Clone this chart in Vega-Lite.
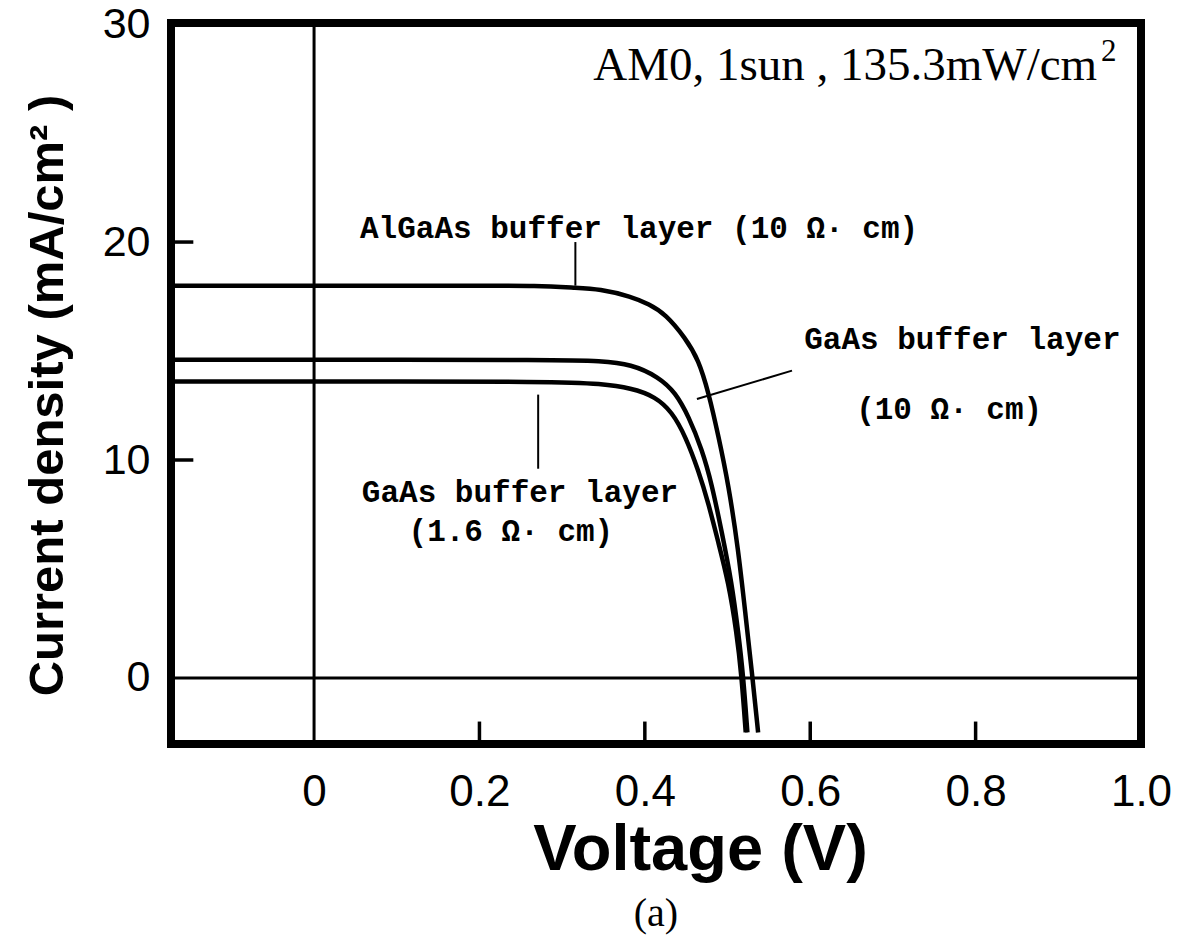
{
  "$schema": "https://vega.github.io/schema/vega-lite/v6.json",
  "autosize": "none",
  "padding": {"left": 171, "top": 23, "right": 44, "bottom": 203},
  "width": 970,
  "height": 721,
  "background": "white",
  "config": {
    "view": {"stroke": "black", "strokeWidth": 8},
    "axis": {"grid": false, "domain": false, "ticks": false, "tickSize": 0, "labelColor": "black", "titleColor": "black"}
  },
  "title": {"text": "(a)", "orient": "bottom", "font": "Liberation Serif", "fontSize": 40, "fontWeight": "normal", "color": "black", "offset": 12, "anchor": "middle"},
  "datasets": {
    "curves": [
      {"series": "AlGaAs 10", "V": -0.173, "J": 18.0},
      {"series": "AlGaAs 10", "V": 0.0, "J": 18.0},
      {"series": "AlGaAs 10", "V": 0.2, "J": 18.0},
      {"series": "AlGaAs 10", "V": 0.27, "J": 18.0},
      {"series": "AlGaAs 10", "V": 0.317, "J": 17.9},
      {"series": "AlGaAs 10", "V": 0.345, "J": 17.85},
      {"series": "AlGaAs 10", "V": 0.384, "J": 17.5},
      {"series": "AlGaAs 10", "V": 0.405, "J": 17.15},
      {"series": "AlGaAs 10", "V": 0.425, "J": 16.7},
      {"series": "AlGaAs 10", "V": 0.449, "J": 15.6},
      {"series": "AlGaAs 10", "V": 0.465, "J": 14.6},
      {"series": "AlGaAs 10", "V": 0.477, "J": 13.1},
      {"series": "AlGaAs 10", "V": 0.489, "J": 11.1},
      {"series": "AlGaAs 10", "V": 0.501, "J": 8.9},
      {"series": "AlGaAs 10", "V": 0.513, "J": 5.9},
      {"series": "AlGaAs 10", "V": 0.522, "J": 2.8},
      {"series": "AlGaAs 10", "V": 0.530, "J": 0.1},
      {"series": "AlGaAs 10", "V": 0.537, "J": -2.5},
      {"series": "GaAs 10", "V": -0.173, "J": 14.6},
      {"series": "GaAs 10", "V": 0.0, "J": 14.6},
      {"series": "GaAs 10", "V": 0.3, "J": 14.6},
      {"series": "GaAs 10", "V": 0.345, "J": 14.55},
      {"series": "GaAs 10", "V": 0.384, "J": 14.4},
      {"series": "GaAs 10", "V": 0.417, "J": 13.8},
      {"series": "GaAs 10", "V": 0.437, "J": 13.1},
      {"series": "GaAs 10", "V": 0.453, "J": 12.0},
      {"series": "GaAs 10", "V": 0.469, "J": 10.5},
      {"series": "GaAs 10", "V": 0.481, "J": 8.9},
      {"series": "GaAs 10", "V": 0.493, "J": 6.7},
      {"series": "GaAs 10", "V": 0.505, "J": 4.4},
      {"series": "GaAs 10", "V": 0.513, "J": 2.1},
      {"series": "GaAs 10", "V": 0.519, "J": 0.1},
      {"series": "GaAs 10", "V": 0.524, "J": -2.5},
      {"series": "GaAs 1.6", "V": -0.173, "J": 13.6},
      {"series": "GaAs 1.6", "V": 0.0, "J": 13.6},
      {"series": "GaAs 1.6", "V": 0.3, "J": 13.6},
      {"series": "GaAs 1.6", "V": 0.345, "J": 13.5},
      {"series": "GaAs 1.6", "V": 0.384, "J": 13.3},
      {"series": "GaAs 1.6", "V": 0.413, "J": 12.9},
      {"series": "GaAs 1.6", "V": 0.433, "J": 12.2},
      {"series": "GaAs 1.6", "V": 0.449, "J": 11.1},
      {"series": "GaAs 1.6", "V": 0.465, "J": 9.5},
      {"series": "GaAs 1.6", "V": 0.477, "J": 8.0},
      {"series": "GaAs 1.6", "V": 0.489, "J": 6.2},
      {"series": "GaAs 1.6", "V": 0.501, "J": 4.4},
      {"series": "GaAs 1.6", "V": 0.511, "J": 2.1},
      {"series": "GaAs 1.6", "V": 0.517, "J": 0.1},
      {"series": "GaAs 1.6", "V": 0.522, "J": -2.5}
    ],
    "refs": [
      {"V": 0, "J": -3.03, "V2": 0, "J2": 30.05},
      {"V": -0.173, "J": 0, "V2": 1.0, "J2": 0}
    ],
    "ticks": [
      {"V": 0.2, "J": -3.03, "V2": 0.2, "J2": -2.0},
      {"V": 0.4, "J": -3.03, "V2": 0.4, "J2": -2.0},
      {"V": 0.6, "J": -3.03, "V2": 0.6, "J2": -2.0},
      {"V": 0.8, "J": -3.03, "V2": 0.8, "J2": -2.0},
      {"V": -0.173, "J": 10, "V2": -0.146, "J2": 10},
      {"V": -0.173, "J": 20, "V2": -0.146, "J2": 20}
    ],
    "leaders": [
      {"V": 0.316, "J": 18.0, "V2": 0.316, "J2": 20.0},
      {"V": 0.463, "J": 12.8, "V2": 0.578, "J2": 14.1},
      {"V": 0.271, "J": 13.0, "V2": 0.271, "J2": 9.6}
    ],
    "labels": [
      {"text": "AlGaAs buffer layer (10 Ω· cm)", "V": 0.393, "J": 20.6},
      {"text": "GaAs buffer layer", "V": 0.784, "J": 15.5},
      {"text": "(10 Ω· cm)", "V": 0.768, "J": 12.3},
      {"text": "GaAs buffer layer", "V": 0.249, "J": 8.5},
      {"text": "(1.6 Ω· cm)", "V": 0.238, "J": 6.7}
    ],
    "cond": [
      {"text": "AM0, 1sun , 135.3mW/cm", "V": 0.947, "J": 27.43}
    ],
    "sup": [
      {"text": "2", "V": 0.961, "J": 28.3}
    ]
  },
  "layer": [
    {
      "data": {"name": "refs"},
      "mark": {"type": "rule", "color": "black", "strokeWidth": 3},
      "encoding": {
        "x": {"field": "V", "type": "quantitative", "scale": {"domain": [-0.173, 1.0], "nice": false, "zero": false},
          "axis": {"values": [0, 0.2, 0.4, 0.6, 0.8, 1.0], "labelExpr": "datum.value == 0 ? '0' : format(datum.value, '.1f')", "labelFont": "Liberation Sans", "labelFontSize": 44, "labelPadding": 26, "labelFlush": false, "labelOverlap": false,
            "title": "Voltage (V)", "titleFont": "Liberation Sans", "titleFontSize": 65, "titleFontWeight": "bold", "titlePadding": 4, "titleX": 529, "titleAlign": "center"}},
        "y": {"field": "J", "type": "quantitative", "scale": {"domain": [-3.03, 30.05], "nice": false, "zero": false},
          "axis": {"values": [0, 10, 20, 30], "labelFont": "Liberation Sans", "labelFontSize": 43, "labelPadding": 21, "labelFlush": false, "labelOverlap": false,
            "title": "Current density (mA/cm² )", "titleFont": "Liberation Sans", "titleFontSize": 49, "titleFontWeight": "bold", "titlePadding": 30, "titleY": 372}},
        "x2": {"field": "V2"},
        "y2": {"field": "J2"}
      }
    },
    {
      "data": {"name": "ticks"},
      "mark": {"type": "rule", "color": "black", "strokeWidth": 3.5},
      "encoding": {
        "x": {"field": "V", "type": "quantitative"},
        "y": {"field": "J", "type": "quantitative"},
        "x2": {"field": "V2"},
        "y2": {"field": "J2"}
      }
    },
    {
      "data": {"name": "leaders"},
      "mark": {"type": "rule", "color": "black", "strokeWidth": 2},
      "encoding": {
        "x": {"field": "V", "type": "quantitative"},
        "y": {"field": "J", "type": "quantitative"},
        "x2": {"field": "V2"},
        "y2": {"field": "J2"}
      }
    },
    {
      "data": {"name": "curves"},
      "mark": {"type": "line", "color": "black", "strokeWidth": 4.5, "interpolate": "basis", "clip": true},
      "encoding": {
        "x": {"field": "V", "type": "quantitative"},
        "y": {"field": "J", "type": "quantitative"},
        "detail": {"field": "series", "type": "nominal"}
      }
    },
    {
      "data": {"name": "labels"},
      "mark": {"type": "text", "font": "Liberation Mono", "fontSize": 31, "fontWeight": "bold", "color": "black", "align": "center", "baseline": "middle"},
      "encoding": {
        "x": {"field": "V", "type": "quantitative"},
        "y": {"field": "J", "type": "quantitative"},
        "text": {"field": "text"}
      }
    },
    {
      "data": {"name": "cond"},
      "mark": {"type": "text", "font": "Liberation Serif", "fontSize": 47, "color": "black", "align": "right", "baseline": "alphabetic"},
      "encoding": {
        "x": {"field": "V", "type": "quantitative"},
        "y": {"field": "J", "type": "quantitative"},
        "text": {"field": "text"}
      }
    },
    {
      "data": {"name": "sup"},
      "mark": {"type": "text", "font": "Liberation Serif", "fontSize": 31, "color": "black", "align": "center", "baseline": "alphabetic"},
      "encoding": {
        "x": {"field": "V", "type": "quantitative"},
        "y": {"field": "J", "type": "quantitative"},
        "text": {"field": "text"}
      }
    }
  ]
}
